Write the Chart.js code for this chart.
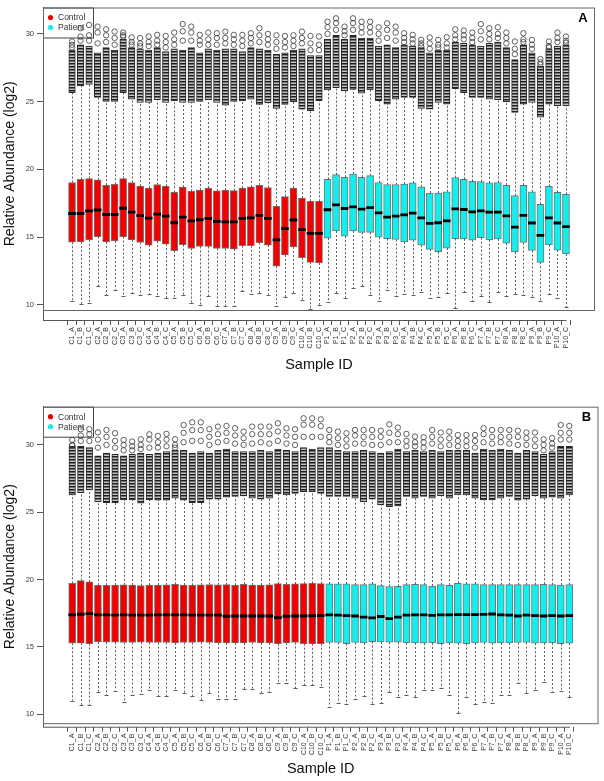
<!DOCTYPE html>
<html>
<head>
<meta charset="utf-8">
<script src="https://cdn.jsdelivr.net/npm/chart.js@4.4.1/dist/chart.umd.min.js"></script>
<style>
  html, body { margin: 0; padding: 0; background: #ffffff; }
  #wrap { position: relative; width: 604px; height: 781px; }
  canvas { position: absolute; left: 0; }
  #chartA { top: 0; }
  #chartB { top: 390px; }
</style>
</head>
<body>
<div id="wrap">
  <canvas id="chartA" width="604" height="390"></canvas>
  <canvas id="chartB" width="604" height="391"></canvas>
</div>
<script>
const sampleIds = [
    'C1_A', 'C1_B', 'C1_C', 'C2_A', 'C2_B', 'C2_C', 'C3_A', 'C3_B', 'C3_C', 'C4_A',
    'C4_B', 'C4_C', 'C5_A', 'C5_B', 'C5_C', 'C6_A', 'C6_B', 'C6_C', 'C7_A', 'C7_B',
    'C7_C', 'C8_A', 'C8_B', 'C8_C', 'C9_A', 'C9_B', 'C9_C', 'C10_A', 'C10_B', 'C10_C',
    'P1_A', 'P1_B', 'P1_C', 'P2_A', 'P2_B', 'P2_C', 'P3_A', 'P3_B', 'P3_C', 'P4_A',
    'P4_B', 'P4_C', 'P5_A', 'P5_B', 'P5_C', 'P6_A', 'P6_B', 'P6_C', 'P7_A', 'P7_B',
    'P7_C', 'P8_A', 'P8_B', 'P8_C', 'P9_A', 'P9_B', 'P9_C', 'P10_A', 'P10_C'
];
const yTicks = [10, 15, 20, 25, 30];
const groupNames = ['Control', 'Patient'];

// ---- panel A (raw) ----
const q3A = [19.03, 19.27, 19.32, 19.23, 18.83, 18.90, 19.32, 19.03, 18.76, 18.62,
    18.88, 18.76, 18.30, 18.69, 18.37, 18.47, 18.62, 18.42, 18.47, 18.43,
    18.62, 18.71, 18.83, 18.66, 17.28, 18.00, 18.62, 17.88, 17.64, 17.64,
    19.27, 19.61, 19.41, 19.66, 19.41, 19.54, 19.03, 18.88, 18.88, 18.91,
    19.00, 18.71, 18.25, 18.25, 18.35, 19.39, 19.27, 19.12, 19.10, 19.00,
    19.03, 18.83, 18.06, 18.83, 18.35, 17.42, 18.74, 18.30, 18.15];
const medA = [16.74, 16.74, 16.93, 17.00, 16.67, 16.67, 17.13, 16.84, 16.59, 16.40,
    16.69, 16.55, 16.06, 16.47, 16.20, 16.28, 16.38, 16.16, 16.13, 16.13,
    16.38, 16.42, 16.60, 16.38, 14.80, 15.62, 16.26, 15.55, 15.28, 15.28,
    17.02, 17.38, 17.11, 17.23, 17.06, 17.18, 16.79, 16.47, 16.55, 16.64,
    16.77, 16.42, 16.01, 16.06, 16.20, 17.08, 17.04, 16.86, 16.93, 16.84,
    16.84, 16.57, 15.74, 16.60, 16.04, 15.13, 16.42, 16.04, 15.77];
const q1A = [14.62, 14.65, 14.80, 15.04, 14.65, 14.72, 15.04, 14.80, 14.60, 14.41,
    14.70, 14.48, 13.99, 14.45, 14.16, 14.31, 14.31, 14.16, 14.16, 14.11,
    14.36, 14.36, 14.58, 14.41, 12.85, 13.68, 14.28, 13.48, 13.14, 13.09,
    14.92, 15.45, 15.07, 15.45, 15.35, 15.35, 14.99, 14.89, 14.82, 14.65,
    14.77, 14.41, 14.09, 13.92, 14.19, 14.89, 14.87, 14.77, 14.96, 14.80,
    14.87, 14.55, 13.90, 14.60, 14.01, 13.14, 14.43, 14.04, 13.75];
const loA = [10.29, 10.05, 10.15, 11.36, 10.71, 11.12, 10.66, 10.90, 10.71, 10.83,
    10.66, 10.47, 10.47, 10.71, 10.17, 9.98, 10.66, 9.93, 9.93, 9.95,
    11.00, 10.83, 10.88, 10.76, 9.93, 10.58, 10.88, 10.39, 9.71, 10.00,
    10.22, 10.88, 10.54, 11.27, 11.36, 10.71, 10.27, 11.12, 10.63, 10.78,
    10.71, 10.93, 10.54, 10.61, 10.86, 9.74, 10.93, 10.29, 10.63, 10.22,
    10.93, 10.66, 10.81, 10.71, 10.59, 10.29, 10.81, 10.54, 9.81];
const hiA = [25.67, 26.16, 26.28, 25.31, 25.01, 25.01, 25.67, 25.18, 24.94, 24.94,
    25.15, 24.94, 25.05, 24.94, 24.94, 25.01, 25.15, 24.94, 24.74, 25.01,
    25.05, 25.18, 24.80, 24.90, 24.50, 24.80, 25.00, 24.45, 24.33, 25.07,
    25.87, 26.04, 25.80, 25.91, 25.62, 25.87, 25.07, 24.82, 25.18, 25.31,
    25.31, 24.50, 24.45, 24.94, 24.82, 25.96, 25.67, 25.31, 25.31, 25.18,
    25.15, 25.00, 24.21, 24.82, 24.94, 23.85, 24.82, 24.70, 24.70];
const denseTopA = [28.8, 29.2, 29.1, 28.6, 29.0, 28.8, 29.6, 29.0, 28.9, 28.8,
    29.0, 28.7, 28.9, 28.8, 29.0, 28.6, 28.9, 28.8, 28.9, 28.9,
    28.7, 29.0, 28.9, 28.8, 28.5, 28.6, 28.8, 28.9, 28.4, 28.4,
    29.6, 29.9, 29.6, 29.9, 29.7, 29.7, 29.1, 29.2, 29.0, 29.2,
    29.1, 29.0, 28.6, 28.8, 28.8, 29.4, 29.3, 29.2, 29.1, 29.3,
    29.4, 29.0, 28.1, 29.2, 28.6, 27.6, 28.9, 29.1, 29.2];
const outLowA = [29.0, 29.5, 29.5, 29.3, 29.4, 29.2, 29.8, 29.2, 29.1, 29.1,
    29.2, 29.0, 29.2, 29.5, 29.5, 29.2, 29.2, 29.2, 29.3, 29.2,
    29.1, 29.3, 29.4, 29.2, 28.9, 29.0, 29.1, 29.3, 28.8, 28.8,
    30.0, 30.3, 29.9, 30.3, 30.1, 30.1, 29.5, 29.7, 29.5, 29.4,
    29.3, 29.1, 28.9, 29.0, 29.0, 29.6, 29.6, 29.4, 29.6, 29.6,
    29.7, 29.3, 28.5, 29.4, 28.9, 27.75, 29.0, 29.4, 29.35];
const outMidA = [29.2, 29.8, 29.9, 30.1, 29.9, 29.7, 29.9, 29.4, 29.3, 29.4,
    29.5, 29.4, 29.6, 30.2, 30.1, 29.5, 29.6, 29.7, 29.7, 29.6,
    29.5, 29.7, 29.9, 29.6, 29.4, 29.4, 29.5, 29.7, 29.3, 29.2,
    30.5, 30.8, 30.2, 30.8, 30.5, 30.5, 30.0, 30.3, 30.1, 29.7,
    29.6, 29.3, 29.3, 29.2, 29.3, 29.9, 29.9, 29.7, 30.2, 30.0,
    30.0, 29.7, 28.9, 29.6, 29.2, 27.9, 29.1, 29.7, 29.5];
const outTopA = [29.44, 30.42, 30.66, 30.54, 30.34, 30.17, 30.10, 29.74, 29.69, 29.81,
    29.93, 29.85, 30.10, 30.73, 30.54, 29.93, 30.10, 30.05, 30.17, 29.93,
    29.93, 30.05, 30.42, 30.00, 29.90, 29.85, 29.90, 30.17, 29.85, 29.81,
    30.90, 31.15, 30.54, 31.15, 30.90, 30.90, 30.49, 30.78, 30.54, 30.05,
    29.93, 29.56, 29.74, 29.56, 29.76, 30.34, 30.25, 30.10, 30.73, 30.42,
    30.49, 30.10, 29.44, 30.05, 29.56, 28.15, 29.44, 30.10, 29.81];

// ---- panel B (normalised) ----
const q3B = [19.73, 19.93, 19.83, 19.58, 19.58, 19.60, 19.62, 19.60, 19.56, 19.60,
    19.60, 19.62, 19.65, 19.60, 19.58, 19.62, 19.64, 19.62, 19.63, 19.58,
    19.66, 19.60, 19.60, 19.62, 19.70, 19.66, 19.68, 19.70, 19.72, 19.70,
    19.68, 19.68, 19.68, 19.63, 19.63, 19.68, 19.55, 19.48, 19.50, 19.63,
    19.66, 19.63, 19.53, 19.63, 19.58, 19.73, 19.68, 19.68, 19.63, 19.63,
    19.63, 19.63, 19.63, 19.63, 19.63, 19.66, 19.63, 19.60, 19.63];
const medB = [17.38, 17.43, 17.48, 17.38, 17.38, 17.36, 17.38, 17.36, 17.36, 17.36,
    17.38, 17.38, 17.38, 17.38, 17.36, 17.36, 17.36, 17.36, 17.28, 17.30,
    17.30, 17.30, 17.30, 17.30, 17.18, 17.28, 17.30, 17.30, 17.32, 17.33,
    17.38, 17.36, 17.33, 17.30, 17.21, 17.16, 17.26, 17.11, 17.21, 17.36,
    17.38, 17.38, 17.35, 17.38, 17.38, 17.40, 17.40, 17.40, 17.42, 17.45,
    17.38, 17.36, 17.30, 17.36, 17.33, 17.30, 17.33, 17.30, 17.33];
const q1B = [15.28, 15.28, 15.25, 15.37, 15.35, 15.35, 15.33, 15.33, 15.35, 15.33,
    15.33, 15.33, 15.30, 15.33, 15.33, 15.35, 15.33, 15.30, 15.30, 15.30,
    15.30, 15.33, 15.30, 15.30, 15.25, 15.30, 15.33, 15.25, 15.24, 15.24,
    15.33, 15.33, 15.25, 15.33, 15.30, 15.40, 15.37, 15.35, 15.35, 15.30,
    15.30, 15.28, 15.30, 15.25, 15.30, 15.28, 15.25, 15.30, 15.33, 15.28,
    15.30, 15.30, 15.33, 15.33, 15.28, 15.30, 15.30, 15.25, 15.28];
const loB = [11.02, 10.70, 10.70, 11.69, 11.44, 11.76, 10.95, 11.44, 11.51, 11.81,
    11.37, 11.37, 11.81, 11.61, 11.37, 11.07, 11.61, 11.12, 11.12, 11.12,
    11.86, 11.86, 11.61, 11.69, 12.31, 12.31, 11.94, 12.18, 12.18, 12.06,
    10.57, 10.85, 10.75, 11.15, 11.37, 10.73, 10.82, 11.69, 11.26, 11.44,
    11.26, 11.81, 11.81, 11.94, 11.44, 10.08, 11.32, 10.75, 10.95, 10.85,
    11.44, 11.44, 12.31, 11.61, 11.81, 12.43, 11.69, 11.70, 11.26];
const hiB = [26.29, 26.46, 26.66, 25.79, 25.72, 25.72, 25.92, 25.92, 25.67, 25.92,
    25.90, 25.90, 26.04, 25.90, 25.72, 25.72, 25.97, 25.97, 26.12, 26.17,
    26.22, 26.04, 25.97, 26.04, 26.36, 26.29, 26.41, 26.54, 26.54, 26.41,
    26.17, 26.17, 26.17, 26.04, 25.79, 25.97, 25.55, 25.42, 25.47, 26.17,
    26.04, 26.17, 26.04, 26.22, 26.04, 26.29, 26.29, 26.04, 25.92, 25.92,
    26.04, 26.17, 25.90, 25.97, 26.22, 26.04, 26.12, 26.04, 26.29];
const denseTopB = [29.9, 29.9, 29.8, 29.2, 29.4, 29.3, 29.2, 29.3, 29.4, 29.3,
    29.4, 29.5, 29.6, 29.6, 29.4, 29.5, 29.4, 29.6, 29.7, 29.5,
    29.5, 29.5, 29.6, 29.5, 29.7, 29.6, 29.5, 29.8, 29.7, 29.8,
    29.8, 29.6, 29.5, 29.5, 29.6, 29.5, 29.4, 29.5, 29.7, 29.5,
    29.6, 29.5, 29.6, 29.5, 29.6, 29.6, 29.6, 29.4, 29.7, 29.6,
    29.7, 29.6, 29.4, 29.6, 29.5, 29.3, 29.5, 29.9, 29.9];
const outLowB = [29.95, 30.3, 30.3, 29.8, 30.0, 29.8, 29.6, 29.6, 29.7, 29.8,
    29.8, 29.9, 29.8, 30.2, 30.3, 30.3, 30.0, 30.2, 30.3, 30.1,
    30.0, 30.1, 30.2, 30.1, 30.3, 30.1, 30.0, 30.6, 30.6, 30.6,
    30.2, 30.0, 29.9, 30.1, 30.1, 30.0, 30.0, 30.2, 30.2, 29.9,
    29.9, 29.8, 30.1, 29.9, 30.0, 29.9, 29.9, 29.8, 30.2, 30.1,
    30.2, 30.1, 30.0, 30.0, 29.9, 29.6, 29.8, 30.4, 30.4];
const outMidB = [30.0, 30.7, 30.8, 30.4, 30.6, 30.3, 30.0, 29.9, 30.0, 30.4,
    30.2, 30.4, 30.0, 30.9, 31.1, 31.1, 30.6, 30.8, 30.9, 30.7,
    30.5, 30.8, 30.8, 30.8, 31.0, 30.7, 30.6, 31.5, 31.5, 31.4,
    30.6, 30.5, 30.4, 30.7, 30.6, 30.6, 30.6, 30.9, 30.8, 30.3,
    30.2, 30.2, 30.6, 30.4, 30.5, 30.3, 30.3, 30.3, 30.8, 30.6,
    30.6, 30.6, 30.6, 30.5, 30.4, 30.0, 30.1, 30.9, 30.9];
const outTopB = [30.37, 31.17, 31.17, 30.94, 31.11, 30.87, 30.37, 30.25, 30.42, 30.79,
    30.67, 30.82, 30.42, 31.48, 31.68, 31.68, 31.17, 31.36, 31.41, 31.24,
    30.99, 31.36, 31.36, 31.36, 31.61, 31.24, 31.17, 31.98, 31.98, 31.90,
    31.11, 30.99, 30.87, 31.11, 31.11, 31.11, 31.06, 31.53, 31.29, 30.82,
    30.62, 30.57, 31.11, 30.92, 30.99, 30.74, 30.74, 30.74, 31.24, 31.11,
    31.11, 31.11, 31.06, 30.92, 30.92, 30.42, 30.50, 31.48, 31.41];

const colors = {
    control: '#f20000',
    patient: '#12eeee',
    axis: '#555555',
    label: '#3a3a3a'
};

const boxColor = sampleIds.map(function (id) {
    return id.charAt(0) === 'C' ? colors.control : colors.patient;
});

// stacked outlier circles are shown as a striped column
function densePattern(canvas) {
    const tile = document.createElement('canvas');
    tile.width = 8;
    tile.height = 3;
    const g = tile.getContext('2d');
    g.fillStyle = '#c4c4c4';
    g.fillRect(0, 0, 8, 3);
    g.fillStyle = '#1e1e1e';
    g.fillRect(0, 0, 8, 1);
    g.fillStyle = '#707070';
    g.fillRect(0, 1, 8, 1);
    return canvas.getContext('2d').createPattern(tile, 'repeat');
}

function makeBoxPlugin(panel) {
    return {
        id: 'boxPlot' + panel.letter,
        beforeDatasetsDraw: function (chart) {
            const ctx = chart.ctx;
            const x = chart.scales.x;
            const y = chart.scales.y;
            const area = chart.chartArea;

            ctx.save();
            ctx.strokeStyle = '#333333';
            ctx.lineWidth = 0.8;
            sampleIds.forEach(function (id, i) {
                const px = Math.round(x.getPixelForValue(i + 1)) + 0.5;
                ctx.setLineDash([2, 2]);
                ctx.beginPath();
                ctx.moveTo(px, y.getPixelForValue(panel.q3[i]));
                ctx.lineTo(px, y.getPixelForValue(panel.hi[i]));
                ctx.moveTo(px, y.getPixelForValue(panel.q1[i]));
                ctx.lineTo(px, y.getPixelForValue(panel.lo[i]));
                ctx.stroke();
                ctx.setLineDash([]);
                const ly = Math.round(y.getPixelForValue(panel.lo[i])) + 0.5;
                ctx.beginPath();
                ctx.moveTo(px - 2, ly);
                ctx.lineTo(px + 2, ly);
                ctx.stroke();
            });

            // legend box (drawn under the outliers, like the original)
            const lx = area.left;
            const ly0 = area.top;
            ctx.strokeStyle = '#444444';
            ctx.lineWidth = 1;
            ctx.strokeRect(lx + 0.5, ly0 + 0.5, 50, 30);
            ctx.font = '8.5px "Liberation Sans", Arial, sans-serif';
            ctx.textBaseline = 'middle';
            ctx.textAlign = 'left';
            [colors.control, colors.patient].forEach(function (c, k) {
                const cy = ly0 + 10 + k * 10;
                ctx.fillStyle = c;
                ctx.beginPath();
                ctx.arc(lx + 7.5, cy, 2.6, 0, Math.PI * 2);
                ctx.fill();
                ctx.fillStyle = '#333333';
                ctx.fillText(groupNames[k], lx + 15, cy + 0.5);
            });
            ctx.restore();
        },
        afterDraw: function (chart) {
            const ctx = chart.ctx;
            const x = chart.scales.x;
            const area = chart.chartArea;
            const frameBottom = area.bottom - panel.axisGap;

            ctx.save();
            ctx.strokeStyle = '#666666';
            ctx.lineWidth = 1;
            ctx.strokeRect(area.left + 0.5, area.top + 0.5, area.right - area.left - 1, frameBottom - area.top);

            ctx.strokeStyle = colors.axis;
            ctx.beginPath();
            ctx.moveTo(area.left, area.bottom + 0.5);
            ctx.lineTo(x.getPixelForValue(sampleIds.length) + 0.5, area.bottom + 0.5);
            ctx.stroke();

            ctx.fillStyle = '#000000';
            ctx.font = 'bold 13px "Liberation Sans", Arial, sans-serif';
            ctx.textAlign = 'center';
            ctx.textBaseline = 'middle';
            ctx.fillText(panel.letter, area.right - 12, area.top + 11);
            ctx.restore();
        }
    };
}

function buildChart(canvas, panel) {
    const idx = sampleIds.map(function (id, i) { return i + 1; });

    const sparse = [];
    idx.forEach(function (v, i) {
        sparse.push({ x: v, y: panel.outLow[i] });
        sparse.push({ x: v, y: panel.outMid[i] });
        sparse.push({ x: v, y: panel.outTop[i] });
    });

    return new Chart(canvas, {
        type: 'bar',
        data: {
            datasets: [
                {
                    type: 'scatter',
                    label: 'outliers',
                    data: sparse,
                    pointStyle: 'circle',
                    pointRadius: 2.7,
                    pointBorderWidth: 0.8,
                    pointBorderColor: '#3a3a3a',
                    pointBackgroundColor: 'rgba(0,0,0,0)',
                    order: 1
                },
                {
                    label: 'median',
                    data: idx.map(function (v, i) { return { x: v, y: [panel.med[i] - 0.08, panel.med[i] + 0.08] }; }),
                    backgroundColor: '#000000',
                    barThickness: 7,
                    grouped: false,
                    order: 2
                },
                {
                    label: 'box',
                    data: idx.map(function (v, i) { return { x: v, y: [panel.q1[i], panel.q3[i]] }; }),
                    backgroundColor: boxColor,
                    borderColor: 'rgba(0,0,0,0.55)',
                    borderWidth: 1,
                    borderSkipped: false,
                    barThickness: 7,
                    grouped: false,
                    order: 3
                },
                {
                    label: 'outlier cloud',
                    data: idx.map(function (v, i) { return { x: v, y: [panel.hi[i], panel.denseTop[i]] }; }),
                    backgroundColor: densePattern(canvas),
                    borderColor: '#2a2a2a',
                    borderWidth: 1,
                    borderSkipped: false,
                    barThickness: 6.5,
                    grouped: false,
                    order: 4
                }
            ]
        },
        options: {
            responsive: false,
            animation: false,
            events: [],
            layout: { padding: { top: panel.padTop, right: panel.padRight, left: 0, bottom: 0 } },
            plugins: {
                legend: { display: false },
                tooltip: { enabled: false }
            },
            scales: {
                x: {
                    type: 'linear',
                    min: -1.86,
                    max: 61.86,
                    afterBuildTicks: function (scale) {
                        scale.ticks = idx.map(function (v) { return { value: v }; });
                    },
                    afterFit: function (scale) {
                        scale.height = panel.xHeight;
                    },
                    border: { display: false },
                    grid: { drawOnChartArea: false, drawTicks: true, tickLength: 5, color: colors.axis },
                    ticks: {
                        autoSkip: false,
                        minRotation: 90,
                        maxRotation: 90,
                        padding: 2,
                        color: colors.label,
                        font: { family: '"Liberation Sans", Arial, sans-serif', size: 7 },
                        callback: function (v) { return sampleIds[v - 1] || ''; }
                    },
                    title: {
                        display: true,
                        text: 'Sample ID',
                        color: '#111111',
                        padding: { top: 0, bottom: panel.titleBottom },
                        font: { family: '"Liberation Sans", Arial, sans-serif', size: 14.5 }
                    }
                },
                y: {
                    min: panel.yMin,
                    max: panel.yMax,
                    afterBuildTicks: function (scale) {
                        scale.ticks = yTicks.map(function (v) { return { value: v }; });
                    },
                    afterFit: function (scale) {
                        scale.width = 43;
                    },
                    border: { display: true, color: colors.axis, width: 1 },
                    grid: { drawOnChartArea: false, drawTicks: true, tickLength: 6, color: colors.axis },
                    ticks: {
                        padding: 3,
                        color: colors.label,
                        font: { family: '"Liberation Sans", Arial, sans-serif', size: 7.5 }
                    },
                    title: {
                        display: true,
                        text: 'Relative Abundance (log2)',
                        color: '#111111',
                        padding: { top: 2, bottom: 0 },
                        font: { family: '"Liberation Sans", Arial, sans-serif', size: 14 }
                    }
                }
            }
        },
        plugins: [makeBoxPlugin(panel)]
    });
}

buildChart(document.getElementById('chartA'), {
    letter: 'A',
    q1: q1A, med: medA, q3: q3A, lo: loA, hi: hiA,
    denseTop: denseTopA, outLow: outLowA, outMid: outMidA, outTop: outTopA,
    yMin: 8.88, yMax: 31.95,
    padTop: 4, padRight: 9, xHeight: 70, titleBottom: 16, axisGap: 10
});

buildChart(document.getElementById('chartB'), {
    letter: 'B',
    q1: q1B, med: medB, q3: q3B, lo: loB, hi: hiB,
    denseTop: denseTopB, outLow: outLowB, outMid: outMidB, outTop: outTopB,
    yMin: 9.08, yMax: 32.84,
    padTop: 16.7, padRight: 5.5, xHeight: 54.3, titleBottom: 3, axisGap: 3.5
});
</script>
</body>
</html>
